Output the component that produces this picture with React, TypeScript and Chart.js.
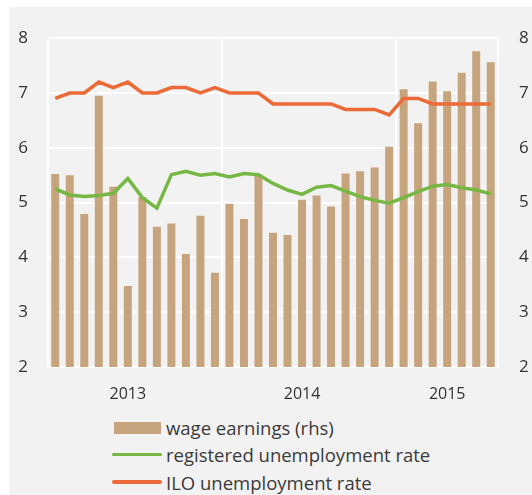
import React, { useEffect, useRef } from "react";
import { Chart, registerables } from "chart.js";

Chart.register(...registerables);

const months = [
  "2013-01", "2013-02", "2013-03", "2013-04", "2013-05", "2013-06",
  "2013-07", "2013-08", "2013-09", "2013-10", "2013-11", "2013-12",
  "2014-01", "2014-02", "2014-03", "2014-04", "2014-05", "2014-06",
  "2014-07", "2014-08", "2014-09", "2014-10", "2014-11", "2014-12",
  "2015-01", "2015-02", "2015-03", "2015-04", "2015-05", "2015-06",
  "2015-07",
];

const yearLabels: Record<number, string> = { 5: "2013", 17: "2014", 27: "2015" };
const yearBoundaries = [0, 12, 24, 31];

const wageEarnings = [
  5.52, 5.5, 4.79, 6.95, 5.29, 3.48, 5.1, 4.56, 4.62, 4.06, 4.76, 3.72,
  4.98, 4.7, 5.49, 4.45, 4.41, 5.05, 5.13, 4.93, 5.53, 5.57, 5.64, 6.02,
  7.07, 6.45, 7.21, 7.03, 7.37, 7.76, 7.56,
];

const registeredRate = [
  5.25, 5.14, 5.11, 5.13, 5.17, 5.44, 5.09, 4.9, 5.51, 5.57, 5.5, 5.53,
  5.47, 5.53, 5.51, 5.35, 5.23, 5.15, 5.28, 5.31, 5.21, 5.11, 5.04, 4.99,
  5.09, 5.2, 5.3, 5.33, 5.27, 5.23, 5.16,
];

const iloRate = [
  6.9, 7.0, 7.0, 7.2, 7.1, 7.2, 7.0, 7.0, 7.1, 7.1, 7.0, 7.1,
  7.0, 7.0, 7.0, 6.8, 6.8, 6.8, 6.8, 6.8, 6.7, 6.7, 6.7, 6.6,
  6.9, 6.9, 6.8, 6.8, 6.8, 6.8, 6.8,
];

const seriesNames = ["wage earnings (rhs)", "registered unemployment rate", "ILO unemployment rate"];

const BAR = "#c6a47e";
const GREEN = "#76b843";
const ORANGE = "#eb6a37";
const FONT = "'Open Sans', sans-serif";
const TEXT = "#333333";

export default function App() {
  const ref = useRef<HTMLCanvasElement | null>(null);

  useEffect(() => {
    if (!ref.current) return;
    const chart = new Chart(ref.current, {
      type: "bar",
      data: {
        labels: months,
        datasets: [
          {
            type: "line",
            label: seriesNames[2],
            data: iloRate,
            borderColor: ORANGE,
            borderWidth: 3.5,
            pointRadius: 0,
            tension: 0,
            yAxisID: "y",
            order: 1,
          },
          {
            type: "line",
            label: seriesNames[1],
            data: registeredRate,
            borderColor: GREEN,
            borderWidth: 3.5,
            pointRadius: 0,
            tension: 0,
            yAxisID: "y",
            order: 2,
          },
          {
            type: "bar",
            label: seriesNames[0],
            data: wageEarnings,
            backgroundColor: BAR,
            barPercentage: 0.55,
            categoryPercentage: 1,
            yAxisID: "y2",
            order: 3,
          },
        ],
      },
      options: {
        responsive: false,
        animation: false,
        layout: { padding: { top: 25, left: 0, right: 0, bottom: 0 } },
        plugins: { legend: { display: false }, tooltip: { enabled: false } },
        scales: {
          x: {
            type: "category",
            offset: true,
            border: { display: false },
            grid: {
              offset: true,
              drawTicks: false,
              lineWidth: 2,
              color: (ctx: any) =>
                ctx.index === undefined || yearBoundaries.includes(ctx.index)
                  ? "#ffffff"
                  : "rgba(0,0,0,0)",
            },
            ticks: {
              autoSkip: false,
              maxRotation: 0,
              padding: 18,
              color: TEXT,
              font: { family: FONT, size: 16 },
              callback: (_v: any, i: number) => yearLabels[i] ?? "",
            },
            afterFit: (s: any) => {
              s.height = 40;
            },
          },
          y: {
            position: "left",
            min: 2,
            max: 8,
            border: { display: false },
            grid: { color: "#ffffff", lineWidth: 2, drawTicks: false },
            ticks: {
              stepSize: 1,
              padding: 20,
              color: TEXT,
              font: { family: FONT, size: 17 },
            },
            afterFit: (s: any) => {
              s.width = 39;
            },
          },
          y2: {
            position: "right",
            min: 2,
            max: 8,
            border: { display: false },
            grid: { display: false, drawTicks: false },
            ticks: {
              stepSize: 1,
              padding: 21,
              color: TEXT,
              font: { family: FONT, size: 17 },
            },
            afterFit: (s: any) => {
              s.width = 34;
            },
          },
        },
      },
    });
    return () => chart.destroy();
  }, []);

  const rowStyle = (top: number): React.CSSProperties => ({
    position: "absolute",
    left: 103,
    top,
    height: 27,
    display: "flex",
    alignItems: "center",
    fontFamily: FONT,
    fontSize: 18.5,
    color: "#3a3a3a",
    whiteSpace: "nowrap",
  });

  return (
    <div
      style={{
        position: "absolute",
        left: 9,
        top: 7,
        width: 523,
        height: 488,
        background: "#f2f2f2",
        overflow: "hidden",
      }}
    >
      <canvas ref={ref} width={523} height={400} style={{ display: "block" }} />
      <div style={rowStyle(407)}>
        <div style={{ width: 50, display: "flex", justifyContent: "center", marginRight: 4 }}>
          <div style={{ width: 47, height: 12, background: BAR }} />
        </div>
        <span>{seriesNames[0]}</span>
      </div>
      <div style={rowStyle(434)}>
        <div style={{ width: 50, height: 3.5, background: GREEN, borderRadius: 2, marginRight: 4 }} />
        <span>{seriesNames[1]}</span>
      </div>
      <div style={rowStyle(461.5)}>
        <div style={{ width: 50, height: 3.5, background: ORANGE, borderRadius: 2, marginRight: 4 }} />
        <span>{seriesNames[2]}</span>
      </div>
    </div>
  );
}
